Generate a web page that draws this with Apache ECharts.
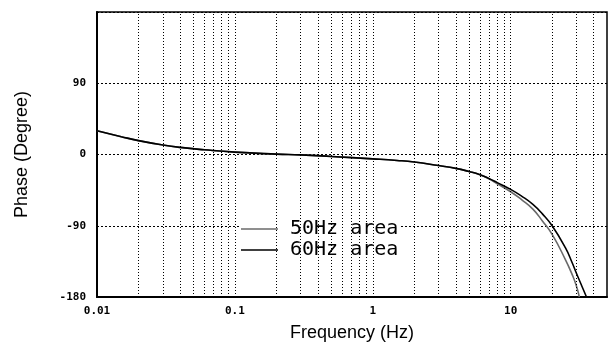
<!DOCTYPE html>
<html>
<head>
<meta charset="utf-8">
<script src="https://cdn.jsdelivr.net/npm/echarts@6/dist/echarts.min.js"></script>
<style>
  html, body { margin: 0; padding: 0; background: #fff; }
  #chart { width: 609px; height: 353px; }
</style>
</head>
<body>
<div id="chart"></div>
<script>
// frequency (Hz) / phase (degree)
var freq50 = [0.01, 0.015, 0.02, 0.03, 0.04, 0.06, 0.1, 0.2, 0.3, 0.5, 1, 1.5, 2, 3, 4, 5, 6, 7, 8, 10, 12, 14.5, 17, 20, 25, 28, 30, 31.5];
var phase50 = [30, 22.5, 17.5, 12, 9, 6, 3, 0.5, -0.5, -2.5, -5.5, -7.5, -9.5, -14, -17.5, -21.5, -25.5, -31, -37, -47, -57, -69, -84, -101, -133, -152, -166, -180];
var freq60 = [0.01, 0.015, 0.02, 0.03, 0.04, 0.06, 0.1, 0.2, 0.3, 0.5, 1, 1.5, 2, 3, 4, 5, 6, 7, 8, 10, 12, 14.5, 17, 20, 25, 28, 30, 33, 35.5];
var phase60 = [30, 22.5, 17.5, 12, 9, 6, 3, 0.5, -0.5, -2.5, -5.5, -7.5, -9.5, -14, -17.5, -21.5, -25.5, -30.5, -35.5, -44, -52.5, -63, -75, -90, -118, -137, -150, -167, -180];

// axis ticks
var xTicks = [0.01, 0.1, 1, 10];
var xTickLabels = ['0.01', '0.1', '1', '10'];
var xGridLines = [0.02, 0.03, 0.04, 0.05, 0.06, 0.07, 0.08, 0.09, 0.1,
                  0.2, 0.3, 0.4, 0.5, 0.6, 0.7, 0.8, 0.9, 1,
                  2, 3, 4, 5, 6, 7, 8, 9, 10, 20, 30, 40];
var yTicks = [-180, -90, 0, 90, 180];

function pairs(xs, ys) {
    return xs.map(function (x, i) { return [x, ys[i]]; });
}

var chart = echarts.init(document.getElementById('chart'));

var tickFont = {
    fontFamily: 'DejaVu Sans Mono',
    fontSize: 11,
    fontWeight: 'bold',
    color: '#000'
};

chart.setOption({
    animation: false,
    backgroundColor: '#fff',
    grid: {
        left: 97, top: 12, right: 2, bottom: 56,
        show: true, borderColor: '#000', borderWidth: 1.5
    },
    legend: {
        left: 239, top: 219,
        orient: 'vertical',
        icon: 'rect',
        itemWidth: 37, itemHeight: 1.6, itemGap: 1,
        padding: [0, 2, 0, 2],
        backgroundColor: '#fff',
        textStyle: {
            fontFamily: 'DejaVu Sans Mono',
            fontSize: 20,
            lineHeight: 20,
            color: '#000',
            padding: [0, 0, 0, 7]
        },
        data: ['50Hz area', '60Hz area']
    },
    xAxis: {
        type: 'log',
        logBase: 10,
        min: 0.01,
        max: 50,
        name: 'Frequency (Hz)',
        nameLocation: 'middle',
        nameGap: 27,
        nameTextStyle: { fontFamily: 'Liberation Sans', fontSize: 18, color: '#000' },
        axisLine: { show: true, onZero: false, lineStyle: { color: '#000', width: 2 } },
        axisTick: { show: false },
        splitLine: { show: false },
        axisLabel: Object.assign({
            margin: 9,
            showMaxLabel: false,
            formatter: function (v) {
                for (var i = 0; i < xTicks.length; i++) {
                    if (Math.abs(v - xTicks[i]) < xTicks[i] * 1e-6) return xTickLabels[i];
                }
                return '';
            }
        }, tickFont)
    },
    yAxis: {
        type: 'value',
        min: yTicks[0],
        max: yTicks[yTicks.length - 1],
        interval: 90,
        name: 'Phase (Degree)',
        nameLocation: 'middle',
        nameGap: 66,
        nameTextStyle: { fontFamily: 'Liberation Sans', fontSize: 18, color: '#000' },
        axisLine: { show: true, lineStyle: { color: '#000', width: 2 } },
        axisTick: { show: false },
        splitLine: { show: true, lineStyle: { color: '#000', width: 1, type: [2, 2] } },
        axisLabel: Object.assign({ margin: 11, showMaxLabel: false }, tickFont)
    },
    series: [
        {
            name: '50Hz area',
            type: 'line',
            symbol: 'none',
            smooth: 0.5,
            data: pairs(freq50, phase50),
            lineStyle: { color: '#6a6a6a', width: 1.6 },
            itemStyle: { color: '#6a6a6a' },
            markLine: {
                silent: true,
                symbol: 'none',
                label: { show: false },
                lineStyle: { color: '#000', width: 1, type: [1, 2] },
                data: xGridLines.map(function (f) { return { xAxis: f }; })
            }
        },
        {
            name: '60Hz area',
            type: 'line',
            symbol: 'none',
            smooth: 0.5,
            data: pairs(freq60, phase60),
            lineStyle: { color: '#000', width: 1.6 },
            itemStyle: { color: '#000' }
        }
    ]
});
</script>
</body>
</html>
